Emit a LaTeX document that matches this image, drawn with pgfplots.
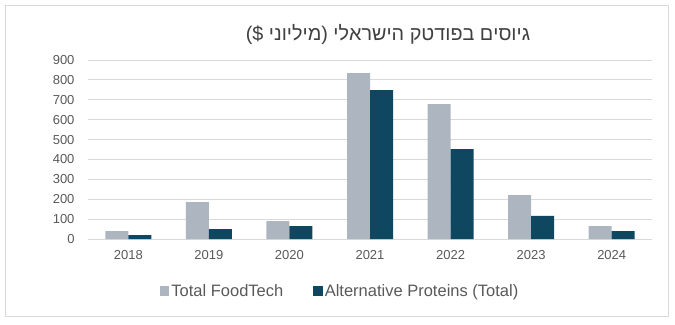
\documentclass[border=0pt]{standalone}
\usepackage{pgfplots}
\pgfplotsset{compat=1.18}
\usepackage{fontspec}
\setmainfont{Liberation Sans}
\TeXXeTstate=1
\definecolor{cgray}{HTML}{ADB6C0}
\definecolor{cdark}{HTML}{0F4761}
\definecolor{ctext}{HTML}{595959}
\definecolor{ctitle}{HTML}{404040}
\definecolor{cgrid}{HTML}{D9D9D9}
\begin{document}
\begin{tikzpicture}
\path[use as bounding box] (0bp,0bp) rectangle (675bp,325bp);
\draw[cgrid, line width=1bp] (5bp,8bp) rectangle (668bp,319bp);
\node[text=ctitle, font=\fontsize{19.8bp}{23bp}\selectfont, inner sep=0pt] at (388bp,290bp)
  {(\$ \beginR מיליוני\endR) \beginR גיוסים בפודטק הישראלי\endR};
\begin{axis}[
  at={(88bp,86bp)}, anchor=south west,
  scale only axis, width=564bp, height=179bp,
  xmin=-0.5, xmax=6.5, ymin=0, ymax=900,
  ybar=0pt, bar width=23bp,
  xtick={0,1,2,3,4,5,6},
  xticklabels={2018,2019,2020,2021,2022,2023,2024},
  ytick={0,100,...,900},
  ymajorgrids, grid style={cgrid, line width=1bp},
  axis line style={draw=none},
  major tick length=0pt,
  tick label style={font=\fontsize{13bp}{15bp}\selectfont, text=ctext},
  /pgf/number format/assume math mode=true,
  yticklabel style={xshift=-10bp},
  xticklabel style={yshift=-8bp},
  legend columns=2,
  legend style={at={(0.447,-0.29)}, anchor=center, draw=none, fill=none,
    font=\fontsize{16.5bp}{19bp}\selectfont, text=ctext,
    /tikz/every even column/.append style={column sep=28bp}},
  legend image code/.code={\fill[#1] (0bp,-4.75bp) rectangle (9.5bp,4.75bp);},
]
\addplot[fill=cgray, draw=none] coordinates {(0,40) (1,186) (2,90) (3,834) (4,678) (5,221) (6,65)};
\addplot[fill=cdark, draw=none] coordinates {(0,20) (1,50) (2,65) (3,749) (4,452) (5,116) (6,40)};
\legend{Total FoodTech, Alternative Proteins (Total)}
\end{axis}
\end{tikzpicture}
\end{document}
